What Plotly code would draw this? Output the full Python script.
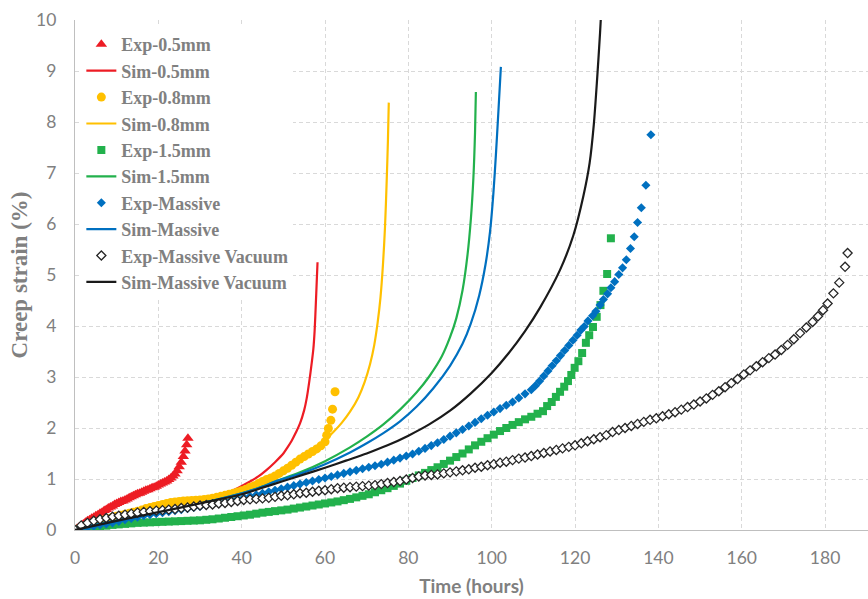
import plotly.graph_objects as go

# ---------------- experimental data (time in hours, creep strain in %) ----------------
exp05_t = [0, 0.5, 1, 1.5, 2, 2.5, 3, 3.5, 4, 4.5, 5, 5.5, 6, 6.5, 7, 7.5, 8, 8.5, 9, 9.5,
           10, 10.5, 11, 11.5, 12, 12.5, 13, 13.5, 14, 14.5, 15, 15.5, 16, 16.5, 17, 17.5,
           18, 18.5, 19, 19.5, 20, 20.5, 21, 21.5, 22, 22.5, 23, 23.5, 24, 24.5, 25, 25.5,
           26, 26.4, 26.8, 27.1]
exp05_s = [0, 0.03, 0.06, 0.09, 0.12, 0.15, 0.18, 0.20, 0.23, 0.25, 0.28, 0.30, 0.33, 0.35,
           0.38, 0.40, 0.43, 0.45, 0.47, 0.50, 0.52, 0.54, 0.56, 0.57, 0.59, 0.61, 0.63, 0.65,
           0.67, 0.69, 0.71, 0.72, 0.74, 0.76, 0.78, 0.79, 0.81, 0.83, 0.84, 0.86, 0.88, 0.90,
           0.92, 0.94, 0.96, 0.99, 1.02, 1.06, 1.10, 1.16, 1.24, 1.33, 1.44, 1.55, 1.67, 1.80]

exp08_t = [0, 1, 2, 3, 4, 5, 6, 7, 8, 9, 10, 11, 12, 13, 14, 15, 16, 17, 18, 19, 20, 21, 22,
           23, 24, 25, 26, 27, 28, 29, 30, 31, 32, 33, 34, 35, 36, 37, 38, 39, 40, 41, 42, 43,
           44, 45, 46, 47, 48, 49, 50, 51, 52, 53, 54, 55, 56, 57, 58, 59, 60, 60.4, 60.8,
           61.4, 61.8, 62.4]
exp08_s = [0, 0.03, 0.06, 0.09, 0.12, 0.15, 0.17, 0.20, 0.22, 0.25, 0.27, 0.29, 0.31, 0.33,
           0.35, 0.37, 0.39, 0.42, 0.44, 0.46, 0.48, 0.50, 0.52, 0.54, 0.55, 0.56, 0.57, 0.575,
           0.58, 0.585, 0.59, 0.60, 0.61, 0.625, 0.64, 0.66, 0.68, 0.70, 0.72, 0.745, 0.77,
           0.80, 0.84, 0.87, 0.91, 0.95, 0.99, 1.02, 1.06, 1.11, 1.16, 1.21, 1.27, 1.33, 1.39,
           1.44, 1.49, 1.54, 1.59, 1.65, 1.73, 1.86, 1.99, 2.15, 2.37, 2.71]

exp15_t = [0, 1.5, 3, 4.5, 6, 7.5, 9, 10.5, 12, 13.5, 15, 16.5, 18, 19.5, 21, 22.5, 24, 25.5,
           27, 28.5, 30, 31.5, 33, 34.5, 36, 37.5, 39, 40.5, 42, 43.5, 45, 46.5, 48, 49.5, 51,
           52.5, 54, 55.5, 57, 58.5, 60, 61.5, 63, 64.5, 66, 67.5, 69, 70.5, 72, 73.5, 75,
           76.5, 78, 79.5, 81, 82.5, 84, 85.5, 87, 88.5, 90, 91.5, 93, 94.5, 96, 97.5, 99,
           100.5, 102, 103.5, 105, 106.5, 108, 109.5, 111, 112.3, 113.3, 114.4, 115.4, 116.4,
           117.4, 118.3, 119.1, 119.9, 120.8, 121.7, 122.6, 123.4, 124.3, 125.2, 126.1, 126.8,
           127.7, 128.6]
exp15_s = [0, 0.02, 0.04, 0.055, 0.07, 0.085, 0.10, 0.11, 0.12, 0.13, 0.14, 0.145, 0.15,
           0.155, 0.16, 0.165, 0.17, 0.175, 0.18, 0.185, 0.19, 0.20, 0.21, 0.225, 0.24, 0.255,
           0.27, 0.285, 0.30, 0.32, 0.34, 0.355, 0.37, 0.385, 0.40, 0.42, 0.44, 0.46, 0.48,
           0.50, 0.52, 0.54, 0.56, 0.585, 0.61, 0.64, 0.67, 0.70, 0.74, 0.78, 0.82, 0.865, 0.91,
           0.965, 1.02, 1.07, 1.12, 1.175, 1.23, 1.295, 1.36, 1.43, 1.50, 1.58, 1.66, 1.73,
           1.80, 1.87, 1.94, 2.00, 2.06, 2.115, 2.17, 2.22, 2.28, 2.33, 2.43, 2.51, 2.61, 2.71,
           2.81, 2.92, 3.04, 3.18, 3.31, 3.47, 3.67, 3.82, 3.98, 4.18, 4.41, 4.69, 5.02, 5.72]

expM_t = [0, 1.5, 3, 4.5, 6, 7.5, 9, 10.5, 12, 13.5, 15, 16.5, 18, 19.5, 21, 22.5, 24, 25.5,
          27, 28.5, 30, 31.5, 33, 34.5, 36, 37.5, 39, 40.5, 42, 43.5, 45, 46.5, 48, 49.5, 51,
          52.5, 54, 55.5, 57, 58.5, 60, 61.5, 63, 64.5, 66, 67.5, 69, 70.5, 72, 73.5, 75,
          76.5, 78, 79.5, 81, 82.5, 84, 85.5, 87, 88.5, 90, 91.5, 93, 94.5, 96, 97.5, 99,
          100.5, 102, 103.5, 105, 106.5, 108, 109.5, 110.5, 111.5, 112.5, 113.5, 114.5, 115.5,
          116.5, 117.5, 118.5, 119.5, 120.5, 121.4, 122.2, 123.1, 124.2, 125, 126, 126.8,
          127.8, 128.6, 129.5, 130.5, 131.4, 132.3, 133.3, 134.2, 135, 135.9, 137, 138.2]
expM_s = [0, 0.03, 0.05, 0.075, 0.10, 0.12, 0.14, 0.17, 0.20, 0.225, 0.25, 0.28, 0.30, 0.32,
          0.34, 0.36, 0.38, 0.40, 0.42, 0.44, 0.46, 0.485, 0.51, 0.535, 0.56, 0.59, 0.61,
          0.635, 0.66, 0.69, 0.72, 0.75, 0.78, 0.81, 0.84, 0.87, 0.90, 0.93, 0.96, 0.99, 1.02,
          1.05, 1.08, 1.11, 1.14, 1.17, 1.20, 1.23, 1.26, 1.29, 1.33, 1.37, 1.41, 1.45, 1.49,
          1.545, 1.60, 1.655, 1.71, 1.775, 1.84, 1.905, 1.97, 2.04, 2.11, 2.18, 2.25, 2.315,
          2.38, 2.445, 2.51, 2.59, 2.67, 2.75, 2.83, 2.92, 3.02, 3.12, 3.22, 3.32, 3.42, 3.52,
          3.62, 3.72, 3.82, 3.92, 3.99, 4.10, 4.20, 4.29, 4.41, 4.52, 4.63, 4.75, 4.87, 5.01,
          5.14, 5.30, 5.52, 5.75, 6.03, 6.32, 6.76, 7.75]

expV_t = [0, 1.5, 3, 4.5, 6, 7.5, 9, 10.5, 12, 13.5, 15, 16.5, 18, 19.5, 21, 22.5, 24, 25.5,
          27, 28.5, 30, 31.5, 33, 34.5, 36, 37.5, 39, 40.5, 42, 43.5, 45, 46.5, 48, 49.5, 51,
          52.5, 54, 55.5, 57, 58.5, 60, 61.5, 63, 64.5, 66, 67.5, 69, 70.5, 72, 73.5, 75,
          76.5, 78, 79.5, 81, 82.5, 84, 85.5, 87, 88.5, 90, 91.5, 93, 94.5, 96, 97.5, 99,
          100.5, 102, 103.5, 105, 106.5, 108, 109.5, 111, 112.5, 114, 115.5, 117, 118.5, 120,
          121.5, 123, 124.5, 126, 127.5, 129, 130.5, 132, 133.5, 135, 136.5, 138, 139.5, 141,
          142.5, 144, 145.5, 147, 148.5, 150, 151.5, 153, 154.5, 156, 157.5, 159, 160.5, 162,
          163.5, 165, 166.5, 168, 169.5, 171, 172.5, 174, 175.5, 177, 178.3, 179.5, 180.6,
          182, 183.4, 184.8, 185.4]
expV_s = [0, 0.09, 0.14, 0.18, 0.21, 0.235, 0.26, 0.28, 0.30, 0.32, 0.34, 0.355, 0.37, 0.38,
          0.39, 0.40, 0.41, 0.43, 0.44, 0.46, 0.48, 0.49, 0.50, 0.52, 0.53, 0.55, 0.57, 0.59,
          0.60, 0.61, 0.62, 0.63, 0.65, 0.67, 0.68, 0.70, 0.72, 0.73, 0.75, 0.77, 0.78, 0.80,
          0.82, 0.83, 0.84, 0.85, 0.86, 0.87, 0.88, 0.90, 0.92, 0.94, 0.96, 0.99, 1.02, 1.05,
          1.07, 1.08, 1.09, 1.11, 1.13, 1.15, 1.17, 1.19, 1.22, 1.24, 1.27, 1.29, 1.32, 1.34,
          1.37, 1.40, 1.42, 1.45, 1.48, 1.51, 1.54, 1.57, 1.60, 1.63, 1.66, 1.70, 1.74, 1.78,
          1.82, 1.86, 1.92, 1.96, 2.00, 2.04, 2.08, 2.12, 2.16, 2.19, 2.23, 2.27, 2.31, 2.36,
          2.41, 2.46, 2.52, 2.58, 2.65, 2.72, 2.80, 2.88, 2.96, 3.05, 3.13, 3.21, 3.29, 3.37,
          3.44, 3.53, 3.63, 3.74, 3.86, 3.97, 4.08, 4.19, 4.31, 4.44, 4.64, 4.85, 5.16, 5.43]

# ---------------- simulated curves ----------------
sim05_t = [0, 5, 10, 15, 20, 25, 30, 33, 36, 39, 42, 44, 46, 48, 50, 51, 52, 53, 54, 55,
           55.6, 56.2, 56.8, 57.2, 57.5, 57.8, 58.0, 58.2]
sim05_s = [0, 0.10, 0.20, 0.29, 0.37, 0.45, 0.55, 0.62, 0.71, 0.82, 0.95, 1.05, 1.18, 1.33,
           1.50, 1.62, 1.75, 1.91, 2.09, 2.35, 2.58, 2.90, 3.27, 3.55, 3.90, 4.45, 4.85, 5.25]

sim08_t = [0, 5, 10, 15, 20, 25, 30, 35, 40, 45, 50, 54, 58, 60, 62, 64, 66, 68, 69.5, 70.8,
           71.8, 72.6, 73.3, 73.9, 74.4, 74.8, 75.1, 75.3]
sim08_s = [0, 0.12, 0.23, 0.33, 0.42, 0.50, 0.57, 0.65, 0.76, 0.92, 1.13, 1.36, 1.62, 1.76,
           1.92, 2.10, 2.32, 2.60, 2.90, 3.25, 3.62, 4.05, 4.55, 5.20, 5.95, 6.85, 7.65, 8.38]

sim15_t = [0, 10, 20, 30, 40, 45, 48, 54, 60, 66, 70, 74, 78, 82, 85, 88, 90, 91.5, 93,
           94.2, 95, 95.6, 96.0, 96.2]
sim15_s = [0, 0.18, 0.35, 0.52, 0.72, 0.85, 0.95, 1.13, 1.35, 1.62, 1.83, 2.07, 2.36, 2.70,
           3.01, 3.40, 3.78, 4.15, 4.70, 5.40, 6.10, 6.90, 7.80, 8.59]

simM_t = [0, 10, 20, 30, 40, 45, 48, 54, 60, 66, 70, 74, 78, 82, 86, 90, 93, 95, 97, 98.5,
          99.6, 100.4, 101, 101.6, 102.2]
simM_s = [0, 0.18, 0.35, 0.52, 0.72, 0.85, 0.95, 1.10, 1.29, 1.52, 1.70, 1.90, 2.13, 2.42,
          2.78, 3.22, 3.65, 4.05, 4.60, 5.20, 5.85, 6.60, 7.35, 8.20, 9.08]

simV_t = [0, 10, 20, 30, 40, 45, 50, 55, 60, 65, 70, 75, 80, 85, 90, 95, 100, 104, 108,
          111.6, 116.4, 119.6, 122, 123.5, 124.5, 125.3, 126, 126.3]
simV_s = [0, 0.18, 0.35, 0.52, 0.70, 0.83, 0.96, 1.09, 1.22, 1.36, 1.50, 1.66, 1.85, 2.07,
          2.34, 2.68, 3.08, 3.46, 3.90, 4.36, 5.10, 5.78, 6.55, 7.20, 7.95, 8.85, 9.75, 10.2]

RED = "#ED1C24"
ORANGE = "#FFC000"
GREEN = "#22B14C"
BLUE = "#0070C0"
BLACK = "#1A1A1A"
GRAY = "#808080"

fig = go.Figure()


def exp_trace(name, t, s, symbol, color, size, hollow=False):
    if hollow:
        marker = dict(symbol=symbol, size=size, color="white",
                      line=dict(color="#262626", width=1.3))
    else:
        marker = dict(symbol=symbol, size=size, color=color, line=dict(width=0))
    fig.add_trace(go.Scatter(x=t, y=s, mode="markers", name=name, marker=marker))


def sim_trace(name, t, s, color):
    fig.add_trace(go.Scatter(x=t, y=s, mode="lines", name=name,
                             line=dict(color=color, width=2.2, shape="spline",
                                       smoothing=0.8)))


exp_trace("Exp-0.5mm", exp05_t, exp05_s, "triangle-up", RED, 10)
sim_trace("Sim-0.5mm", sim05_t, sim05_s, RED)
exp_trace("Exp-0.8mm", exp08_t, exp08_s, "circle", ORANGE, 9)
sim_trace("Sim-0.8mm", sim08_t, sim08_s, ORANGE)
exp_trace("Exp-1.5mm", exp15_t, exp15_s, "square", GREEN, 8)
sim_trace("Sim-1.5mm", sim15_t, sim15_s, GREEN)
exp_trace("Exp-Massive", expM_t, expM_s, "diamond", BLUE, 7)
sim_trace("Sim-Massive", simM_t, simM_s, BLUE)
exp_trace("Exp-Massive Vacuum", expV_t, expV_s, "diamond", "white", 7, hollow=True)
sim_trace("Sim-Massive Vacuum", simV_t, simV_s, BLACK)

fig.update_layout(
    width=868, height=599,
    margin=dict(l=75, r=0, t=20, b=69),
    paper_bgcolor="white", plot_bgcolor="white",
    showlegend=True,
    legend=dict(
        x=0.008, y=0.988, xanchor="left", yanchor="top",
        bgcolor="white", borderwidth=0,
        font=dict(family="Liberation Serif", size=18, color=GRAY, weight="bold"),
        traceorder="normal",
    ),
    xaxis=dict(
        range=[0, 190.3], dtick=20, tick0=0,
        showgrid=True, gridcolor="#D9D9D9", griddash="4px,3px", gridwidth=1,
        showline=True, linecolor="#BFBFBF", linewidth=1.3,
        zeroline=False, ticks="", ticklabelstandoff=12,
        tickfont=dict(family="Lato", size=17.5, color=GRAY),
        title=dict(text="Time (hours)", standoff=12,
                   font=dict(family="Lato", size=19, color=GRAY, weight="bold")),
    ),
    yaxis=dict(
        range=[0, 10], dtick=1, tick0=0,
        showgrid=True, gridcolor="#D9D9D9", griddash="4px,3px", gridwidth=1,
        showline=True, linecolor="#BFBFBF", linewidth=1.3,
        zeroline=False, ticks="", ticklabelstandoff=14,
        tickfont=dict(family="Lato", size=17.5, color=GRAY),
        title=dict(text="Creep strain (%)", standoff=1,
                   font=dict(family="Liberation Serif", size=23, color=GRAY, weight="bold")),
    ),
)

fig.write_html("out.html")
